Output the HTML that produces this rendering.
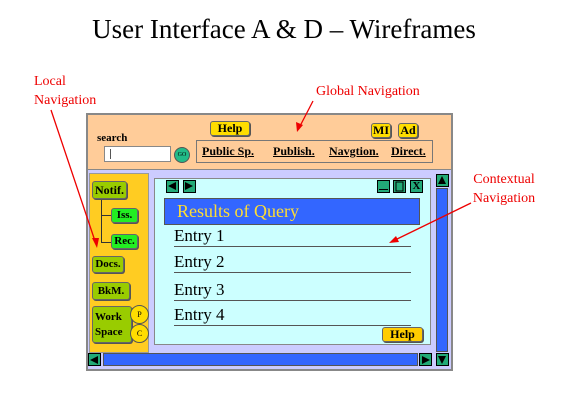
<!DOCTYPE html>
<html><head><meta charset="utf-8"><style>
body{margin:0;width:568px;height:403px;background:#fff;position:relative;overflow:hidden;font-family:"Liberation Serif",serif}
.a{position:absolute;box-sizing:border-box}
.btn{position:absolute;box-sizing:border-box;border:1px solid #666;border-radius:3px;font-weight:bold;font-size:11px;text-align:center;color:#000;box-shadow:1px 1px 0 #555}
.red{position:absolute;color:#e00;font-size:14px;line-height:19px}
.tb{position:absolute;box-sizing:border-box;background:#22aa77;border:1px solid #000;width:13px;height:13px}
.ent{position:absolute;left:174px;width:237px;font-size:17px;border-bottom:1px solid #555;line-height:20px}
</style></head><body>
<div class="a" style="left:0;top:14px;width:568px;text-align:center;font-size:27px">User Interface A &amp; D – Wireframes</div>
<div class="red" style="left:34px;top:72px">Local<br>Navigation</div>
<div class="red" style="left:316px;top:82px">Global Navigation</div>
<div class="red" style="left:472px;top:170px;text-align:center;width:80px;margin-left:-8px">Contextual<br>Navigation</div>

<div class="a" style="left:86px;top:113px;width:367px;height:258px;background:#ccccff;border:2px solid #888"></div>
<div class="a" style="left:88px;top:115px;width:363px;height:55px;background:#ffcc99;border-bottom:1px solid #888"></div>
<div class="a" style="left:97px;top:132px;font-size:11px;font-weight:bold">search</div>
<div class="a" style="left:104px;top:146px;width:67px;height:16px;background:#fff;border:1px solid #888"><div style="position:absolute;left:5px;top:2px;width:1px;height:10px;background:#555"></div></div>
<div class="a" style="left:174px;top:147px;width:16px;height:16px;border-radius:50%;background:#22bb88;border:1px solid #555;font-size:6px;text-align:center;line-height:14px">GO</div>
<div class="btn" style="left:210px;top:121px;width:40px;height:15px;background:#ffdd00;line-height:13px;font-size:12px">Help</div>
<div class="btn" style="left:371px;top:123px;width:20px;height:15px;background:#ffdd00;line-height:13px;font-size:12px">MI</div>
<div class="btn" style="left:398px;top:123px;width:20px;height:15px;background:#ffdd00;line-height:13px;font-size:12px">Ad</div>
<div class="a" style="left:196px;top:140px;width:237px;height:23px;border:1px solid #777;font-size:12px;font-weight:bold;line-height:21px;white-space:nowrap">
<span style="position:absolute;left:5px;text-decoration:underline">Public Sp.</span><span style="position:absolute;left:76px;text-decoration:underline">Publish.</span><span style="position:absolute;left:132px;text-decoration:underline">Navgtion.</span><span style="position:absolute;left:194px;text-decoration:underline">Direct.</span></div>

<div class="a" style="left:89px;top:173px;width:60px;height:180px;background:#ffcc22;border:1px solid #999"></div>
<div class="a" style="left:101px;top:198px;width:10px;height:45px;border-left:1px solid #333"></div>
<div class="a" style="left:101px;top:215px;width:10px;border-top:1px solid #333"></div>
<div class="a" style="left:101px;top:242px;width:10px;border-top:1px solid #333"></div>
<div class="btn" style="left:92px;top:181px;width:35px;height:18px;background:#99cc00;line-height:16px;font-size:12px">Notif.</div>
<div class="btn" style="left:111px;top:208px;width:27px;height:15px;background:#22ee22;line-height:13px">Iss.</div>
<div class="btn" style="left:111px;top:234px;width:27px;height:15px;background:#22ee22;line-height:13px">Rec.</div>
<div class="btn" style="left:92px;top:256px;width:32px;height:17px;background:#99cc00;line-height:15px">Docs.</div>
<div class="btn" style="left:92px;top:282px;width:38px;height:18px;background:#99cc00;line-height:16px">BkM.</div>
<div class="btn" style="left:92px;top:306px;width:40px;height:37px;background:#99cc00;line-height:15px;padding-top:3px;text-align:left;padding-left:2px">Work<br>Space</div>
<div class="a" style="left:130px;top:305px;width:19px;height:19px;border-radius:50%;background:#ffdd00;border:1px solid #555;font-size:8px;text-align:center;line-height:17px">P</div>
<div class="a" style="left:130px;top:324px;width:19px;height:19px;border-radius:50%;background:#ffdd00;border:1px solid #555;font-size:8px;text-align:center;line-height:17px">C</div>

<div class="a" style="left:154px;top:178px;width:277px;height:167px;background:#ccffff;border:1px solid #888"></div>
<div class="tb" style="left:166px;top:180px"></div><div class="tb" style="left:183px;top:180px"></div>
<div class="tb" style="left:377px;top:180px"></div><div class="tb" style="left:393px;top:180px"></div><div class="tb" style="left:410px;top:180px;background:#22aa77;font-size:11px;font-weight:bold;line-height:11px;text-align:center">X</div>
<div class="a" style="left:164px;top:198px;width:256px;height:27px;background:#3366ff;border:1px solid #555;color:#ffdd33;font-size:18px;line-height:25px;padding-left:12px">Results of Query</div>
<div class="ent" style="left:174px;top:226px">Entry 1</div>
<div class="ent" style="left:174px;top:252px">Entry 2</div>
<div class="ent" style="left:174px;top:280px">Entry 3</div>
<div class="ent" style="left:174px;top:305px">Entry 4</div>
<div class="btn" style="left:382px;top:327px;width:41px;height:15px;background:#ffcc00;line-height:13px;font-size:12px">Help</div>

<div class="tb" style="left:436px;top:174px"></div>
<div class="a" style="left:436px;top:188px;width:12px;height:164px;background:#3366ff;border:1px solid #555"></div>
<div class="tb" style="left:436px;top:353px"></div>
<div class="tb" style="left:88px;top:353px"></div>
<div class="a" style="left:103px;top:353px;width:315px;height:13px;background:#3366ff;border:1px solid #555"></div>
<div class="tb" style="left:419px;top:353px"></div>

<svg class="a" style="left:0;top:0" width="568" height="403">
<g fill="#000">
<polygon points="168,186 176,182 176,190"/><polygon points="193,186 185,182 185,190"/>
<polygon points="442,176 438,184 446,184"/><polygon points="442,364 438,356 446,356"/>
<polygon points="90,360 98,356 98,364"/><polygon points="430,360 422,356 422,364"/>
</g>
<rect x="379" y="189" width="9" height="1" fill="#000"/>
<rect x="396" y="182" width="7" height="9" fill="none" stroke="#000"/>
<g stroke="#e00" stroke-width="1.3" fill="#e00">
<line x1="51" y1="110" x2="96" y2="244"/><polygon points="97,248 92,238 99,238" stroke="none"/>
<line x1="313" y1="101" x2="299" y2="128"/><polygon points="297,132 296,122 303,125" stroke="none"/>
<line x1="471" y1="203" x2="393" y2="241"/><polygon points="389,243 396,236 399,242" stroke="none"/>
</g>
</svg>
</body></html>
